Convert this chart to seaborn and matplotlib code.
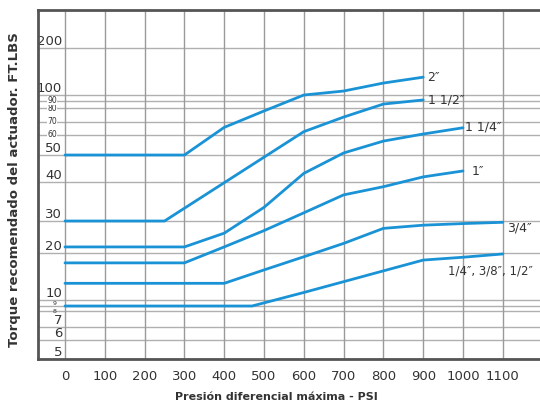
import numpy as np
import pandas as pd
import matplotlib
matplotlib.use("Agg")
import matplotlib.pyplot as plt
import seaborn as sns

# valve sizes and their torque curves (ft.lbs vs max differential pressure psi)
sizes = ["2″", "1 1/2″", "1 1/4″", "1″", "3/4″", "1/4″, 3/8″, 1/2″"]

psi_2 = [0, 300, 400, 500, 600, 700, 800, 900]
torque_2 = [50, 50, 65.5, 77.8, 100, 108.5, 125.5, 138]

psi_1_12 = [0, 250, 600, 700, 800, 900]
torque_1_12 = [30, 30, 62.2, 73.3, 85.3, 91]

psi_1_14 = [0, 300, 400, 500, 600, 700, 800, 900, 1000]
torque_1_14 = [21.9, 21.9, 26.2, 33.5, 43.2, 51, 56.8, 60.4, 65.2]

psi_1 = [0, 300, 400, 500, 600, 700, 800, 900, 1000]
torque_1 = [17.9, 17.9, 21.9, 27.0, 32.1, 36.7, 38.8, 41.9, 44.1]

psi_34 = [0, 400, 500, 600, 700, 800, 900, 1000, 1100]
torque_34 = [13.55, 13.55, 16.4, 19.2, 23.0, 27.7, 28.7, 29.2, 29.6]

psi_14 = [0, 470, 600, 700, 800, 900, 1000, 1100]
torque_14 = [9, 9, 11.6, 13.9, 16.2, 18.5, 19.1, 19.8]

x_ticks = [0, 100, 200, 300, 400, 500, 600, 700, 800, 900, 1000, 1100]
y_ticks = [5, 6, 7, 8, 9, 10, 20, 30, 40, 50, 60, 70, 80, 90, 100, 200]
small_ticks = [60, 70, 80, 90]
tiny_ticks = [8, 9]

# the printed chart uses an irregular torque axis: value -> pixel row
scale_vals = [4, 5, 6, 7, 8, 9, 10, 20, 30, 40, 50, 60, 70, 80, 90, 100, 200, 300]
scale_rows = [377, 359, 340, 327, 311, 306, 300, 253, 221, 182, 155, 134.5,
              121.5, 108, 100.5, 95, 48, 1]
scale_pos = -np.array(scale_rows, dtype=float)


def fwd(v):
    return np.interp(v, scale_vals, scale_pos)


def inv(p):
    return np.interp(p, scale_pos, scale_vals)


frames = []
for name, xs, ys in zip(
    sizes,
    [psi_2, psi_1_12, psi_1_14, psi_1, psi_34, psi_14],
    [torque_2, torque_1_12, torque_1_14, torque_1, torque_34, torque_14],
):
    frames.append(pd.DataFrame({"psi": xs, "torque": ys, "size": name}))
df = pd.concat(frames, ignore_index=True)

sns.set_style("white")
plt.rcParams["font.family"] = ["DejaVu Sans"]

blue = "#1a93d6"
text_c = "#333333"
frame_c = "#555555"

fig = plt.figure(figsize=(5.4, 4.08), dpi=100)
ax = fig.add_axes([38 / 540, 49 / 408, 507 / 540, 349.5 / 408])

sns.lineplot(
    data=df, x="psi", y="torque", units="size", estimator=None, sort=False,
    color=blue, linewidth=2, ax=ax, legend=False, zorder=3,
)

ax.set_yscale("function", functions=(fwd, inv))
ax.set_xlim(-67.8, 1206)
ax.set_ylim(5, 282)

# grid
for v in y_ticks:
    ax.axhline(v, color="#b0b0b0", lw=1, zorder=1)
for x in x_ticks:
    ax.axvline(x, color="#9a9a9a", lw=1, zorder=1)

ax.set_xticks(x_ticks)
ax.set_xticklabels([str(x) for x in x_ticks], fontsize=9.5, color=text_c)
ax.tick_params(axis="x", length=0, pad=8)
ax.set_yticks([])
ax.set_xlabel("")
ax.set_ylabel("")

# y labels drawn inside the frame, left of the zero line
for v in y_ticks:
    if v in small_ticks:
        ax.text(-20, v, str(v), fontsize=5.5, color=text_c, ha="right",
                va="center", zorder=2,
                bbox=dict(facecolor="white", edgecolor="none", pad=0.3))
    elif v in tiny_ticks:
        ax.text(-22, v, str(v), fontsize=4.5, color=text_c, ha="right",
                va="bottom" if v == 9 else "center", zorder=2)
    else:
        ax.text(-7, v, str(v), fontsize=9.5, color=text_c, ha="right",
                va="bottom", zorder=2)

# size labels at the end of each curve
ax.text(910, 138, sizes[0], fontsize=9, color=text_c, va="center")
ax.text(912, 91, sizes[1], fontsize=9, color=text_c, va="center")
ax.text(1005, 65.7, sizes[2], fontsize=9, color=text_c, va="center")
ax.text(1023, 44, sizes[3], fontsize=9, color=text_c, va="center")
ax.text(1110, 27.9, sizes[4], fontsize=9, color=text_c, va="center")
ax.text(962, 16.2, sizes[5], fontsize=8.5, color=text_c, va="center")

for side in ["left", "top", "bottom"]:
    ax.spines[side].set_visible(True)
    ax.spines[side].set_color(frame_c)
    ax.spines[side].set_linewidth(2)
ax.spines["right"].set_visible(False)

fig.text(276 / 540, 1 - 397 / 408, "Presión diferencial máxima - PSI",
         fontsize=8, fontweight="bold", color=text_c, ha="center", va="center")
fig.text(15 / 540, 1 - 190 / 408, "Torque recomendado del actuador. FT.LBS",
         fontsize=9.5, fontweight="bold", color=text_c, ha="center",
         va="center", rotation=90)

fig.savefig("out.png", dpi=100)
plt.close(fig)
